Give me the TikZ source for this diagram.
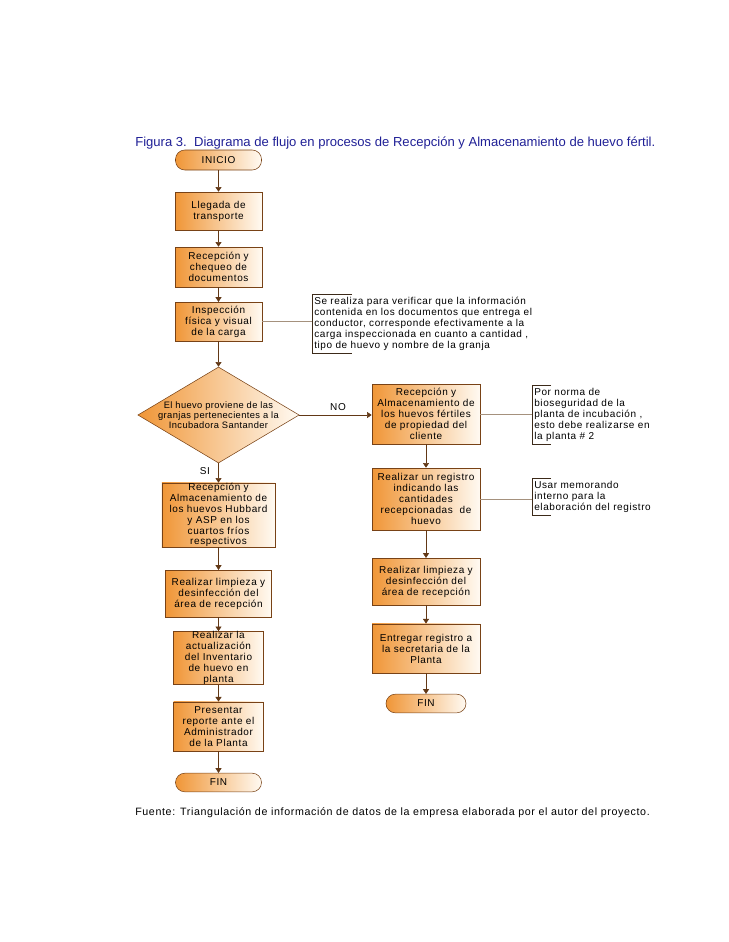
\documentclass[tikz,border=0pt]{standalone}
\usepackage{fontspec}
\setmainfont{Liberation Sans}
\newfontfamily\boxfont{Liberation Sans}[LetterSpace=6]
\newfontfamily\diafont{Liberation Sans}[LetterSpace=4]
\usepackage{tikz}
\usetikzlibrary{arrows.meta,calc,shapes.geometric}
\definecolor{boxorange}{RGB}{240,150,55}
\definecolor{boxcream}{RGB}{255,250,242}
\definecolor{edgebrown}{RGB}{120,66,22}
\definecolor{flowbrown}{RGB}{98,56,22}
\definecolor{notegrey}{RGB}{165,145,125}
\definecolor{bracketdark}{RGB}{60,42,25}
\definecolor{titleblue}{RGB}{32,32,150}
\tikzset{
  process/.style={draw=edgebrown,left color=boxorange,right color=boxcream,
    align=center,inner xsep=2pt,inner ysep=1pt,
    font=\boxfont\fontsize{7.5}{8.2}\selectfont},
  terminal/.style={process,rounded corners=7pt,minimum width=64.5pt,
    minimum height=15pt},
  decision/.style={draw=edgebrown,diamond,left color=boxorange,
    right color=boxcream,inner sep=0pt,minimum width=121pt,minimum height=72pt},
  notebox/.style={align=left,anchor=west,inner xsep=1.5pt,inner ysep=2pt,
    font=\boxfont\fontsize{7.5}{8.25}\selectfont},
  bracket/.style={draw=bracketdark,thin},
  noteline/.style={draw=notegrey,thin},
  flow/.style={-{Triangle[length=3.5pt,width=4.5pt]},draw=flowbrown,thin},
  smalllabel/.style={font=\boxfont\fontsize{7.5}{8.25}\selectfont}
}

\begin{document}
\begin{tikzpicture}[x=0.75pt,y=-0.75pt]
  \useasboundingbox (0,0) rectangle (728,942);
  \node[anchor=west,inner xsep=0pt,text=titleblue,
    font=\fontsize{9.8}{11}\selectfont] (title)
    at (135,143) {Figura 3.\ \ Diagrama de flujo en procesos de Recepción y
    Almacenamiento de huevo fértil.};
  % left column
  \node[terminal] (inicio) at (218.5,160) {INICIO};
  \node[process,minimum width=65pt,minimum height=28.5pt] (llegada)
    at (218.5,211) {Llegada de\\transporte};
  \node[process,minimum width=65pt,minimum height=30pt] (chequeo)
    at (218.5,267) {Recepción y\\chequeo de\\documentos};
  \node[process,minimum width=65pt,minimum height=29pt] (insp)
    at (218.5,321.5) {Inspección\\física y visual\\de la carga};
  \node[decision,label={[font=\diafont\fontsize{7}{7.4}\selectfont,
    align=center]center:{El huevo proviene de las\\granjas pertenecientes a la\\
    Incubadora Santander}}] (dec) at (218.5,415) {};
  \node[process,inner ysep=0pt,minimum width=85pt,minimum height=46.5pt]
    (hubbard) at (218.5,515) {Recepción y\\Almacenamiento de\\los huevos Hubbard\\
    y ASP en los\\cuartos fríos\\respectivos};
  \node[process,minimum width=79.5pt,minimum height=35pt] (limpizq)
    at (218.5,593.5) {Realizar limpieza y\\desinfección del\\área de recepción};
  \node[process,inner ysep=0pt,minimum width=67.5pt,minimum height=36pt]
    (actual) at (218.5,658) {Realizar la\\actualización\\del Inventario\\
    de huevo en\\planta};
  \node[process,minimum width=67.5pt,minimum height=37pt] (presenta)
    at (218.5,726.5) {Presentar\\reporte ante el\\Administrador\\de la Planta};
  \node[terminal,minimum height=14pt] (finizq) at (218.5,782.5) {FIN};
  % right column
  \node[process,minimum width=81pt,minimum height=45pt] (cliente)
    at (426,414) {Recepción y\\Almacenamiento de\\los huevos fértiles\\
    de propiedad del\\cliente};
  \node[process,minimum width=81pt,minimum height=46.5pt] (registro)
    at (426,499) {Realizar un registro\\indicando las\\cantidades\\
    recepcionadas\ \ de\\huevo};
  \node[process,minimum width=81pt,minimum height=35pt] (limpder)
    at (426,581.5) {Realizar limpieza y\\desinfección del\\área de recepción};
  \node[process,minimum width=81pt,minimum height=37pt] (entrega)
    at (426,648.5) {Entregar registro a\\la secretaria de la\\Planta};
  \node[terminal,minimum width=60pt,minimum height=14pt] (finder)
    at (426,703.5) {FIN};
  % notes
  \node[notebox] (nota1) at (312,323.5) {Se realiza para verificar que la
    información\\contenida en los documentos que entrega el\\conductor,
    corresponde efectivamente a la\\carga inspeccionada en cuanto a cantidad\ ,\\
    tipo de huevo y nombre de la granja};
  \node[notebox] (nota2) at (532,415) {Por norma de\\bioseguridad de la\\
    planta de incubación ,\\esto debe realizarse en\\la planta \# 2};
  \node[notebox] (nota3) at (532,497) {Usar memorando\\interno para la\\
    elaboración del registro};
  \draw[bracket] ($(nota1.north west)+(40,0)$) -- (nota1.north west)
    -- (nota1.south west) -- ++(40,0);
  \draw[bracket] ($(nota2.north west)+(19,0)$) -- (nota2.north west)
    -- (nota2.south west) -- ++(19,0);
  \draw[bracket] ($(nota3.north west)+(19,0)$) -- (nota3.north west)
    -- (nota3.south west) -- ++(19,0);
  \draw[noteline] (insp.east) -- (insp.east -| nota1.west);
  \draw[noteline] (cliente.east) -- (cliente.east -| nota2.west);
  \draw[noteline] (registro.east) -- (registro.east -| nota3.west);
  % labels
  \node[smalllabel] (lblno) at (338,407) {NO};
  \node[smalllabel] (lblsi) at (205,471) {SI};
  % flows
  \draw[flow] (inicio) -- (llegada);
  \draw[flow] (llegada) -- (chequeo);
  \draw[flow] (chequeo) -- (insp);
  \draw[flow] (insp) -- (dec);
  \draw[flow] (dec) -- (hubbard);
  \draw[flow] (dec.east) -- (dec.east -| cliente.west);
  \draw[flow] (hubbard) -- (limpizq);
  \draw[flow] (limpizq) -- (actual);
  \draw[flow] (actual) -- (presenta);
  \draw[flow] (presenta) -- (finizq);
  \draw[flow] (cliente) -- (registro);
  \draw[flow] (registro) -- (limpder);
  \draw[flow] (limpder) -- (entrega);
  \draw[flow] (entrega) -- (finder);
  \node[anchor=west,inner xsep=0pt,font=\boxfont\fontsize{8}{9.5}\selectfont]
    (fuente) at (135,813) {Fuente: Triangulación de información de datos de
    la empresa elaborada por el autor del proyecto.};
\end{tikzpicture}
\end{document}
